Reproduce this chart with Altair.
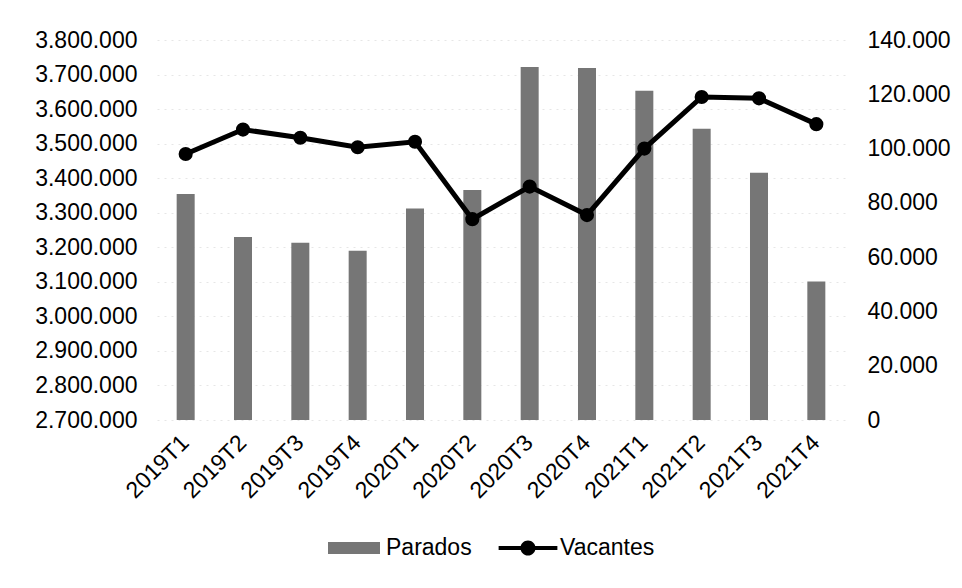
import altair as alt
import pandas as pd

periodos = ["2019T1", "2019T2", "2019T3", "2019T4", "2020T1", "2020T2",
            "2020T3", "2020T4", "2021T1", "2021T2", "2021T3", "2021T4"]
parados = [3354000, 3230000, 3213000, 3190000, 3312000, 3366000,
           3722000, 3719000, 3653000, 3543000, 3416000, 3101000]
vacantes = [98000, 107000, 104000, 100500, 102500, 74000,
            86000, 75500, 100000, 119000, 118500, 109000]
series = ["Parados", "Vacantes"]
ticks_left = [2700000, 2800000, 2900000, 3000000, 3100000, 3200000,
              3300000, 3400000, 3500000, 3600000, 3700000, 3800000]
ticks_right = [0, 20000, 40000, 60000, 80000, 100000, 120000, 140000]
base_left = 2700000

df = pd.DataFrame({"periodo": periodos, "parados": parados, "vacantes": vacantes})
leg = pd.DataFrame({"serie": series})

FONT = "Liberation Sans"
BAR = "#767676"
LABEL_EXPR = "replace(format(datum.value, ','), regexp(',', 'g'), '.')"

rect_path = "M-1,-0.23H1V0.23H-1Z"
line_path = ("M-1.13,-0.08H1.13V0.08H-1.13Z "
             "M0.29,0A0.29,0.29 0 1,1 -0.29,0A0.29,0.29 0 1,1 0.29,0Z")

x_enc = alt.X(
    "periodo:N", sort=periodos, title=None,
    scale=alt.Scale(paddingInner=0.686, paddingOuter=0.343),
    axis=alt.Axis(labelAngle=-45, labelFontSize=23, labelPadding=11, labelOffset=-8,
                  ticks=False, tickSize=0, domain=False, labelColor="black",
                  labelFont=FONT, grid=False),
)

bars = alt.Chart(df).mark_bar(color=BAR).encode(
    x=x_enc,
    y=alt.Y("parados:Q",
            scale=alt.Scale(domain=[2700000, 3800000], zero=False, nice=False),
            axis=alt.Axis(orient="left", values=ticks_left, labelExpr=LABEL_EXPR,
                          title=None, ticks=False, tickSize=0, domain=False,
                          labelFontSize=23, labelFont=FONT, labelColor="black",
                          labelPadding=20, grid=True, gridColor="#e6e6e6",
                          gridDash=[2, 5], gridWidth=1)),
    y2=alt.datum(base_left),
)

y_right = alt.Y("vacantes:Q",
                scale=alt.Scale(domain=[0, 140000], nice=False),
                axis=alt.Axis(orient="right", values=ticks_right, labelExpr=LABEL_EXPR,
                              title=None, ticks=False, tickSize=0, domain=False,
                              labelFontSize=23, labelFont=FONT, labelColor="black",
                              labelPadding=22, grid=False))

line = alt.Chart(df).mark_line(color="black", strokeWidth=5).encode(
    x=alt.X("periodo:N", sort=periodos),
    y=y_right,
)
pts = alt.Chart(df).mark_circle(color="black", size=200, opacity=1).encode(
    x=alt.X("periodo:N", sort=periodos),
    y=alt.Y("vacantes:Q"),
)

legend_props = dict(title=None, orient="none", legendX=171, legendY=482,
                    direction="horizontal", symbolSize=2704, symbolStrokeWidth=0,
                    labelFontSize=23, labelFont=FONT, labelColor="black",
                    labelOffset=6, columnPadding=26)

legend_layer = alt.Chart(leg).mark_point(filled=True, opacity=1).encode(
    color=alt.Color("serie:N", scale=alt.Scale(domain=series, range=[BAR, "black"]),
                    legend=alt.Legend(**legend_props)),
    shape=alt.Shape("serie:N", scale=alt.Scale(domain=series, range=[rect_path, line_path]),
                    legend=alt.Legend(**legend_props)),
).transform_filter("false")

chart = alt.layer(
    bars, alt.layer(line, pts), legend_layer
).resolve_scale(
    y="independent"
).properties(
    width=688, height=380,
    autosize=alt.AutoSizeParams(type="none"),
    padding={"left": 149, "top": 32, "right": 109, "bottom": 160},
    background="white",
).configure_view(strokeWidth=0)

chart.save("out.html", embed_options={"renderer": "svg", "actions": False})
